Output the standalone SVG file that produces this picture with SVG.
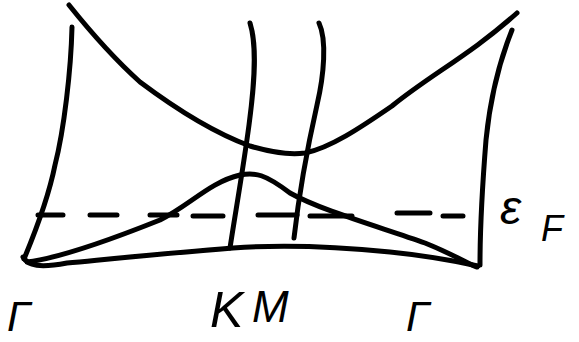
<svg xmlns="http://www.w3.org/2000/svg" width="579" height="342" viewBox="0 0 579 342">
<style>
.s{fill:none;stroke:#000;stroke-width:5;stroke-linecap:round;stroke-linejoin:round}
.t{font-family:"Liberation Sans","DejaVu Sans",sans-serif;font-style:italic;fill:#000}
</style>
<rect width="579" height="342" fill="#fff"/>
<g id="frame">
<path class="s" d="M72,27 C71,70 64,130 55,165 C48,200 34,235 24,259"/>
<path class="s" d="M512,30 C500,60 490,100 486,140 C482,190 480,230 480,265"/>
<path class="s" d="M23,257 C28,266 40,268 67,263 C120,258 170,253 233,248 C290,244 340,247 390,252 C430,256 460,262 478,266"/>
</g>
<g id="k-line"><path class="s" d="M250,23 C257,45 255,80 249,125 C243,170 235,215 230,248"/></g>
<g id="m-line"><path class="s" d="M319,23 C327,40 324,75 317,105 C308,145 300,185 294,238"/></g>
<g id="conduction-band"><path class="s" d="M69,5 C85,25 110,55 140,82 C180,112 220,135 250,146 C270,152 290,155 305,153 C330,148 360,128 392,106 C430,75 470,55 517,13"/></g>
<g id="valence-band"><path class="s" d="M27,262 C60,258 110,240 160,220 C190,205 210,182 240,175 C255,172 265,174 290,193 C320,210 380,227 425,243 C455,255 470,265 477,267"/></g>
<g id="fermi-level">
<path class="s" d="M38,215 H63 M90,215 H117 M150,215 H177 M193,216 H223 M258,215 H297 M310,216 H352 M397,213 H430 M443,216 H463"/>
</g>
<g id="labels">
<text class="t" x="7" y="331" font-size="42">Γ</text>
<text class="t" x="210" y="327" font-size="50">K</text>
<text class="t" x="252" y="322" font-size="44">M</text>
<text class="t" x="406" y="331" font-size="42">Γ</text>
<text class="t" x="500" y="224" font-size="48">ε</text>
<text class="t" x="541" y="241" font-size="36">F</text>
</g>
</svg>
